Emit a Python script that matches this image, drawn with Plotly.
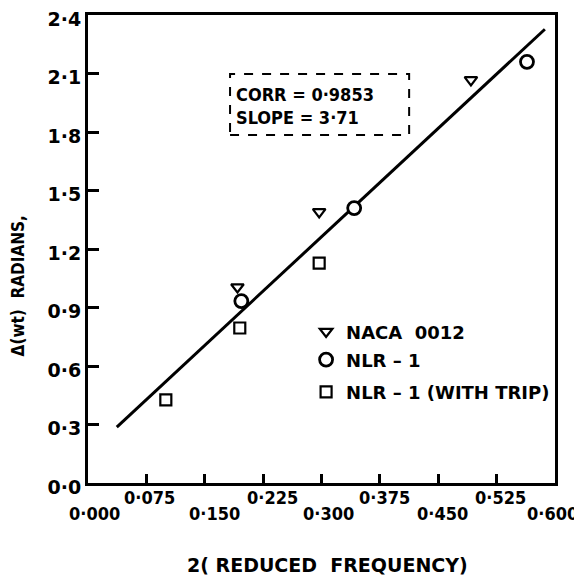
import plotly.graph_objects as go

# ---- data ----
naca_x = [0.192, 0.297, 0.492]
naca_y = [1.005, 1.39, 2.067]
nlr_x = [0.197, 0.342, 0.564]
nlr_y = [0.933, 1.41, 2.16]
trip_x = [0.100, 0.195, 0.297]
trip_y = [0.426, 0.795, 1.128]
fit_x = [0.037, 0.587]
fit_y = [0.287, 2.327]
series_names = ["NACA  0012", "NLR – 1", "NLR – 1 (WITH TRIP)"]
x_tickvals = [0.0, 0.075, 0.15, 0.225, 0.3, 0.375, 0.45, 0.525, 0.6]
x_ticktext = ["0·000", "0·075", "0·150", "0·225", "0·300", "0·375", "0·450", "0·525", "0·600"]
y_tickvals = [0.0, 0.3, 0.6, 0.9, 1.2, 1.5, 1.8, 2.1, 2.4]
y_ticktext = ["0·0", "0·3", "0·6", "0·9", "1·2", "1·5", "1·8", "2·1", "2·4"]
stats_text = "CORR = 0·9853<br>SLOPE = 3·71"
x_title = "2( REDUCED  FREQUENCY)"
y_title = "Δ(wt)  RADIANS,"

# style: horizontal nudges of the staggered x labels (pixels)
label_dx = [6, 3, 10, 9, 7, 5, 4, 4, -3]

FONT = "DejaVu Sans Condensed"
FONT_W = "DejaVu Sans"
def f(size, fam=FONT):
    return dict(family=fam, size=size, color="black", weight="bold")

fig = go.Figure()
fig.add_trace(go.Scatter(x=fit_x, y=fit_y, mode="lines",
                         line=dict(color="black", width=3), showlegend=False, hoverinfo="skip"))
fig.add_trace(go.Scatter(x=naca_x, y=naca_y, mode="markers", name=series_names[0], legend="legend",
                         marker=dict(symbol="triangle-down", size=11, color="white",
                                     line=dict(color="black", width=2.2))))
fig.add_trace(go.Scatter(x=nlr_x, y=nlr_y, mode="markers", name=series_names[1], legend="legend2",
                         marker=dict(symbol="circle", size=13, color="white",
                                     line=dict(color="black", width=2.8))))
fig.add_trace(go.Scatter(x=trip_x, y=trip_y, mode="markers", name=series_names[2], legend="legend3",
                         marker=dict(symbol="square", size=11, color="white",
                                     line=dict(color="black", width=2.2))))

# alternating x tick labels
for i, (v, t) in enumerate(zip(x_tickvals, x_ticktext)):
    fig.add_annotation(x=v, y=0, xref="x", yref="paper", text=t, showarrow=False,
                       xanchor="center", yanchor="middle", xshift=label_dx[i],
                       yshift=-30 if i % 2 == 0 else -14, font=f(18))

fig.add_annotation(x=0.5, y=0, xref="paper", yref="paper", text=x_title, showarrow=False,
                   xanchor="center", yanchor="middle", yshift=-82, xshift=6, font=f(19, FONT_W))
fig.add_annotation(x=0, y=0.42, xref="paper", yref="paper", text=y_title, showarrow=False,
                   textangle=-90, xanchor="center", yanchor="middle", xshift=-70, font=f(17))

# stats box
fig.add_shape(type="rect", x0=0.1825, x1=0.4126, y0=1.785, y1=2.097, xref="x", yref="y",
              line=dict(color="black", width=2, dash="dash"))
fig.add_annotation(x=0.187, y=1.935, xref="x", yref="y", text=stats_text, showarrow=False,
                   xanchor="left", yanchor="middle", align="left", font=f(18))

leg = dict(xanchor="left", yanchor="middle", font=f(18, FONT_W),
           bgcolor="rgba(0,0,0,0)", itemwidth=30)
fig.update_layout(
    width=574, height=567,
    margin=dict(l=80, r=27, t=7, b=92, autoexpand=False),
    paper_bgcolor="white", plot_bgcolor="white",
    font=dict(family=FONT, color="black"),
    legend=dict(x=0.467, y=0.323, **leg),
    legend2=dict(x=0.467, y=0.263, **leg),
    legend3=dict(x=0.467, y=0.194, **leg),
    xaxis=dict(range=[0, 0.6], tickvals=x_tickvals, ticktext=[""] * len(x_tickvals),
               ticks="inside", ticklen=9, tickwidth=2.5, tickcolor="black",
               showline=True, linecolor="black", linewidth=3, mirror=True,
               showgrid=False, zeroline=False, automargin=False),
    yaxis=dict(range=[0, 2.4], tickvals=y_tickvals, ticktext=y_ticktext,
               ticks="inside", ticklen=11, tickwidth=2.5, tickcolor="black",
               showline=True, linecolor="black", linewidth=3, mirror=True,
               showgrid=False, zeroline=False, ticklabelstandoff=0, automargin=False,
               ticklabelshift=4,
               ticklabeloverflow="allow", tickfont=f(19, FONT_W)),
)
fig.write_html("out.html")
